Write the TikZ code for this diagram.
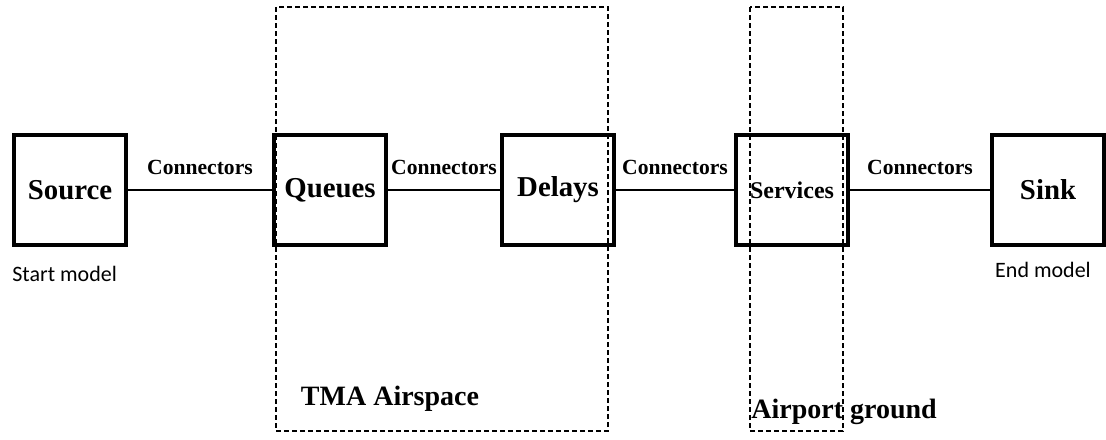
\documentclass[tikz,border=0pt]{standalone}
\usepackage{fontspec}
\setmainfont{Liberation Serif}
\newfontfamily\calibrifont{Carlito}
\usetikzlibrary{graphs}

\begin{document}
\begin{tikzpicture} [x=0.5pt, y=-0.5pt,
            block/.style={draw, line width=2pt, minimum width=56pt, minimum height=55pt,
                          inner sep=0pt, font=\fontsize{14.4}{16}\selectfont\bfseries},
            wire/.style={line width=1.2pt},
            wirelabel/.style={font=\fontsize{10.8}{12}\selectfont\bfseries, inner ysep=7pt},
            zone/.style={line width=1.2pt, dash pattern=on 2.5pt off 1.5pt},
            zonelabel/.style={font=\fontsize{14}{16}\selectfont\bfseries, inner sep=0pt},
            note/.style={font=\calibrifont\fontsize{11}{13}\selectfont, inner sep=0pt}]
            \useasboundingbox (0, 0) rectangle (1106, 439);

            \node[block] (source)   at (70, 190)    {Source};
            \node[block] (queues)   at (330, 190)   {Queues};
            \node[block] (delays)   at (558, 190)   {Delays};
            \node[block, font=\fontsize{12}{14}\selectfont\bfseries]
                         (services) at (792, 190)   {Services};
            \node[block] (sink)     at (1048, 190)  {Sink};

            \node[note, anchor=west] (start) at (12, 274)   {Start model};
            \node[note] (end)                at (1043, 270) {End model};


            \graph[edges={wire, nodes={wirelabel}}] {
                (source) --[edge label=Connectors] (queues) --[edge label=Connectors] (delays)
                    --[edge label=Connectors] (services) --[edge label=Connectors] (sink);
            };

            \draw[zone] (276, 7) rectangle (608, 431);
            \draw[zone] (750, 7) rectangle (843, 431);
            \node[zonelabel] (tma) at (390, 399) {TMA Airspace};
            \node[zonelabel, anchor=west] (ground) at (751, 412) {Airport ground};
        \end{tikzpicture}
\end{document}
